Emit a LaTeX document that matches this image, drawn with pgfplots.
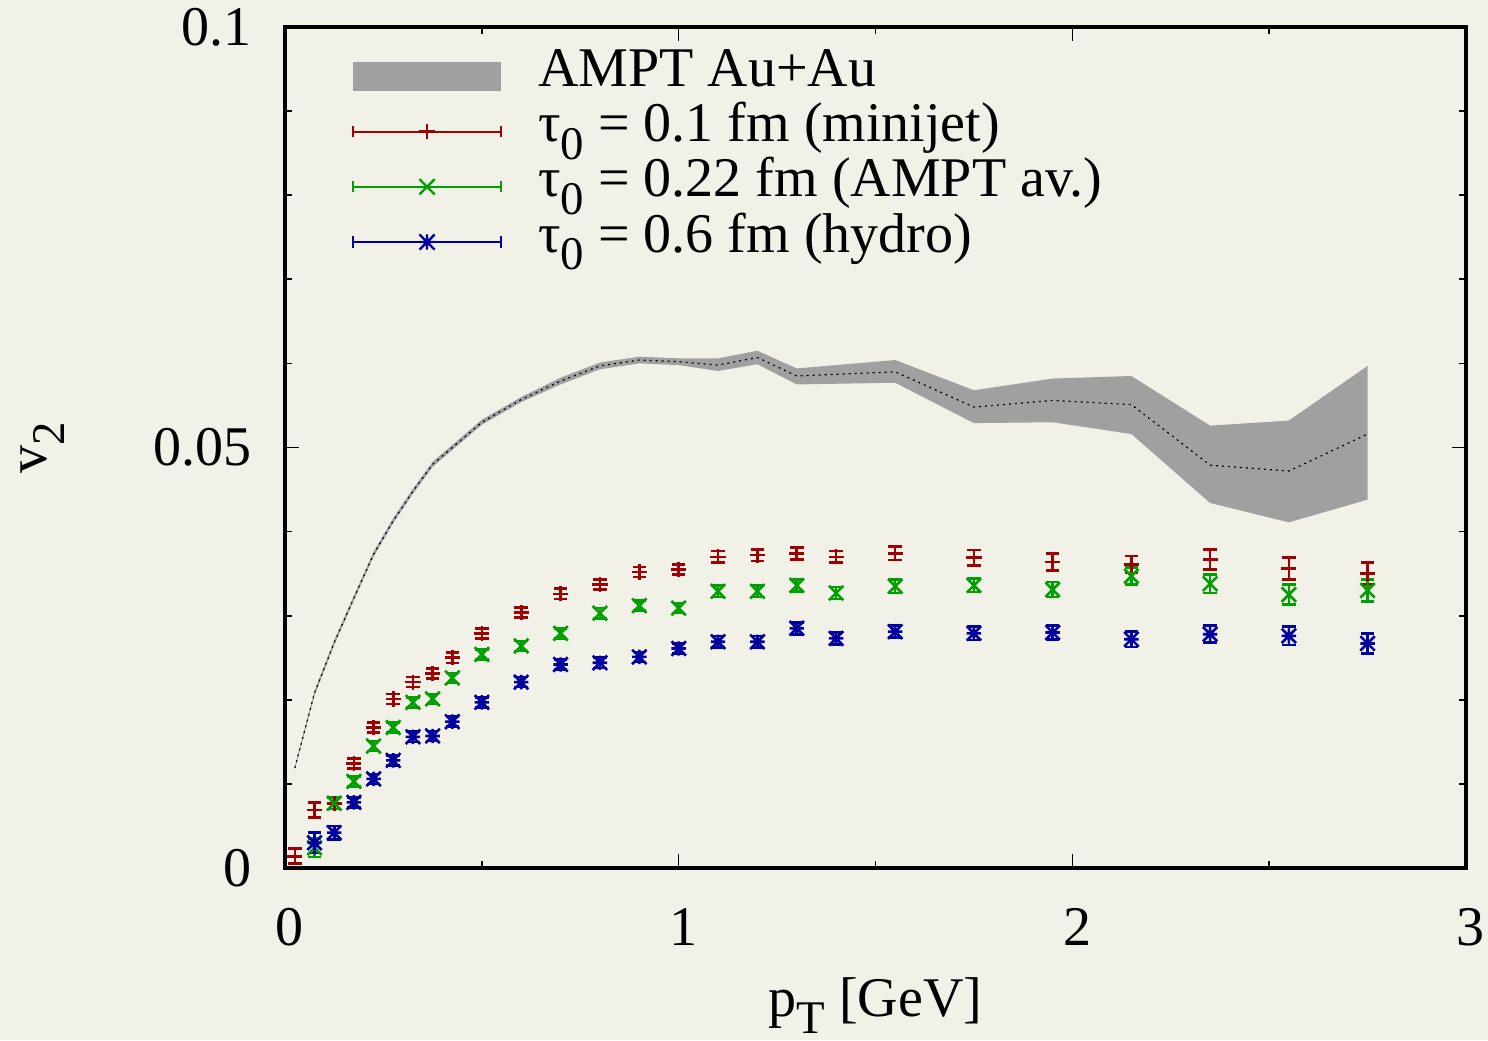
\documentclass[border=0pt]{standalone}
\usepackage{fontspec}
\setmainfont{Liberation Serif}
\usepackage{pgfplots}
\usepackage{pgfplotstable}
\pgfplotsset{compat=1.18}
\usepgfplotslibrary{fillbetween}

\definecolor{bg}{RGB}{242,241,231}
\definecolor{gpred}{RGB}{160,0,0}
\definecolor{gpgreen}{RGB}{0,160,0}
\definecolor{gpblue}{RGB}{0,0,160}
\definecolor{bandgray}{RGB}{160,160,160}

\pgfdeclareplotmark{gpstar}{%
 \pgfpathmoveto{\pgfqpoint{-\pgfplotmarksize}{0pt}}\pgfpathlineto{\pgfqpoint{\pgfplotmarksize}{0pt}}%
 \pgfpathmoveto{\pgfqpoint{0pt}{-\pgfplotmarksize}}\pgfpathlineto{\pgfqpoint{0pt}{\pgfplotmarksize}}%
 \pgfpathmoveto{\pgfqpoint{-\pgfplotmarksize}{-\pgfplotmarksize}}\pgfpathlineto{\pgfqpoint{\pgfplotmarksize}{\pgfplotmarksize}}%
 \pgfpathmoveto{\pgfqpoint{-\pgfplotmarksize}{\pgfplotmarksize}}\pgfpathlineto{\pgfqpoint{\pgfplotmarksize}{-\pgfplotmarksize}}%
 \pgfusepathqstroke}
\pgfdeclareplotmark{gpx}{%
 \pgfpathmoveto{\pgfqpoint{-\pgfplotmarksize}{-\pgfplotmarksize}}\pgfpathlineto{\pgfqpoint{\pgfplotmarksize}{\pgfplotmarksize}}%
 \pgfpathmoveto{\pgfqpoint{-\pgfplotmarksize}{\pgfplotmarksize}}\pgfpathlineto{\pgfqpoint{\pgfplotmarksize}{-\pgfplotmarksize}}%
 \pgfusepathqstroke}

\newcommand{\errleg}[2]{%
 \draw[#1, line width=0.55pt] (0pt,0pt) -- (37pt,0pt);
 \draw[#1, line width=0.55pt] (0pt,-1.4pt) -- (0pt,1.4pt);
 \draw[#1, line width=0.55pt] (37pt,-1.4pt) -- (37pt,1.4pt);
 \path[#1, line width=0.6pt, mark=#2, mark size=1.9pt] plot coordinates {(18.5pt,0pt)};
}
\newcommand{\sub}[1]{\raisebox{-0.32em}{\fontsize{11.7}{12}\selectfont #1}}

% AMPT Au+Au band: x, lower, upper, central
\pgfplotstableread{
x lo hi mid
0.025 0.0117 0.0121 0.0119
0.075 0.0205 0.0211 0.0208
0.125 0.0265 0.0271 0.0268
0.175 0.0318 0.0324 0.0321
0.225 0.0370 0.0376 0.0373
0.275 0.0410 0.0416 0.0413
0.325 0.0445 0.0451 0.0448
0.375 0.0477 0.0483 0.0480
0.5 0.0527 0.0533 0.0530
0.6 0.0554 0.0560 0.0557
0.7 0.0575 0.0583 0.0579
0.8 0.0593 0.0601 0.0597
0.9 0.0600 0.0608 0.0604
1.0 0.0598 0.0606 0.0602
1.1 0.0591 0.0606 0.0598
1.2 0.0599 0.0615 0.0607
1.3 0.0575 0.0594 0.0585
1.55 0.0577 0.0604 0.0590
1.75 0.0529 0.0568 0.0548
1.95 0.0530 0.0582 0.0556
2.15 0.0516 0.0585 0.0551
2.35 0.0434 0.0526 0.0479
2.55 0.0411 0.0532 0.0472
2.75 0.0438 0.0597 0.0516
}\bandtab

\pgfplotstableread{
x y e
0.025 0.0014 0.0009
0.075 0.0069 0.0009
0.125 0.0077 0.0007
0.175 0.0124 0.0006
0.225 0.0167 0.0006
0.275 0.0201 0.0006
0.325 0.0221 0.0006
0.375 0.0231 0.0006
0.425 0.0250 0.0006
0.5 0.0279 0.0006
0.6 0.0304 0.0006
0.7 0.0326 0.0006
0.8 0.0337 0.0006
0.9 0.0352 0.0006
1.0 0.0355 0.0006
1.1 0.0370 0.0007
1.2 0.0372 0.0007
1.3 0.0374 0.0007
1.4 0.0370 0.0007
1.55 0.0374 0.0008
1.75 0.0369 0.0009
1.95 0.0364 0.0010
2.15 0.0361 0.0010
2.35 0.0367 0.0012
2.55 0.0356 0.0013
2.75 0.0350 0.0013
}\redtab

\pgfplotstableread{
x y e
0.075 0.0024 0.0011
0.125 0.0077 0.0007
0.175 0.0103 0.0006
0.225 0.0145 0.0006
0.275 0.0167 0.0006
0.325 0.0197 0.0006
0.375 0.0201 0.0006
0.425 0.0226 0.0006
0.5 0.0254 0.0006
0.6 0.0264 0.0006
0.7 0.0279 0.0006
0.8 0.0303 0.0006
0.9 0.0312 0.0006
1.0 0.0309 0.0006
1.1 0.0329 0.0007
1.2 0.0329 0.0007
1.3 0.0336 0.0007
1.4 0.0327 0.0007
1.55 0.0335 0.0008
1.75 0.0336 0.0008
1.95 0.0331 0.0009
2.15 0.0347 0.0010
2.35 0.0338 0.0011
2.55 0.0325 0.0012
2.75 0.0330 0.0013
}\greentab

\pgfplotstableread{
x y e
0.075 0.0030 0.0012
0.125 0.0042 0.0008
0.175 0.0078 0.0006
0.225 0.0106 0.0006
0.275 0.0128 0.0006
0.325 0.0156 0.0006
0.375 0.0157 0.0006
0.425 0.0174 0.0006
0.5 0.0197 0.0006
0.6 0.0221 0.0006
0.7 0.0242 0.0006
0.8 0.0244 0.0006
0.9 0.0251 0.0006
1.0 0.0261 0.0006
1.1 0.0269 0.0007
1.2 0.0269 0.0007
1.3 0.0285 0.0007
1.4 0.0273 0.0007
1.55 0.0281 0.0007
1.75 0.0279 0.0008
1.95 0.0280 0.0008
2.15 0.0272 0.0009
2.35 0.0278 0.0010
2.55 0.0276 0.0011
2.75 0.0267 0.0012
}\bluetab

\begin{document}
\fontsize{14}{16.8}\selectfont
\begin{tikzpicture}
\begin{axis}[
  set layers, clip=false,
  at={(0pt,0pt)}, anchor=south west,
  width=295.25pt, height=210.25pt, scale only axis,
  xmin=0, xmax=3, ymin=0, ymax=0.1,
  xtick={0,1,2,3}, minor xtick={0.5,1.5,2.5},
  ytick={0,0.05,0.1},
  minor ytick={0.01,0.02,0.03,0.04,0.06,0.07,0.08,0.09},
  tick align=inside,
  major tick length=3.6pt, minor tick length=1.8pt,
  every tick/.style={black, line width=0.4pt},
  axis line style={line width=0.8pt},
  scaled y ticks=false,
  /pgf/number format/assume math mode=true,
  yticklabel style={/pgf/number format/fixed, /pgf/number format/precision=2, xshift=-3.5pt},
  xticklabel style={yshift=-5.2pt, xshift=1.2pt},
  xlabel={p\sub{T} [GeV]},
  ylabel={v\sub{2}},
  xlabel style={at={(axis description cs:0.5,-0.176)}, anchor=base},
  ylabel style={at={(axis description cs:-0.205,0.5)}, anchor=center},
  legend style={at={(axis description cs:0.056,0.975)}, anchor=north west,
    draw=none, fill=none, inner sep=0pt, row sep=0pt,
    nodes={text height=9.4pt, text depth=4.4pt, inner sep=0pt}},
  legend cell align=left,
]
\begin{pgfonlayer}{axis background}
\fill[bg] (rel axis cs:-0.2413,-0.2045) rectangle (rel axis cs:1.0186,1.0321);
\end{pgfonlayer}
\addplot[name path=hi, draw=none, forget plot] table[x=x, y=hi]{\bandtab};
\addplot[name path=lo, draw=none, forget plot] table[x=x, y=lo]{\bandtab};
\addplot[fill=bandgray, draw=none,
  legend image code/.code={\fill[bandgray] (0pt,-3.6pt) rectangle (37pt,3.6pt); \path (46pt,0pt);}]
  fill between[of=hi and lo];
\addlegendentry{AMPT Au+Au}
\addplot[black, line width=0.3pt, dash pattern=on 0.5pt off 1pt, forget plot]
  table[x=x, y=mid]{\bandtab};

\addplot[gpred, only marks, mark=+, mark size=1.9pt, line width=0.65pt,
  error bars/.cd, y dir=both, y explicit,
  error bar style={line width=0.65pt},
  error mark options={rotate=90, mark size=1.7pt, line width=0.65pt},
  /pgfplots/legend image code/.code={\errleg{gpred}{+}\path (46pt,0pt);}]
  table[x=x, y=y, y error=e]{\redtab};
\addlegendentry{τ\sub{0} = 0.1 fm (minijet)}

\addplot[gpgreen, only marks, mark=gpx, mark size=1.8pt, line width=0.65pt,
  error bars/.cd, y dir=both, y explicit,
  error bar style={line width=0.65pt},
  error mark options={rotate=90, mark size=1.7pt, line width=0.65pt},
  /pgfplots/legend image code/.code={\errleg{gpgreen}{gpx}\path (46pt,0pt);}]
  table[x=x, y=y, y error=e]{\greentab};
\addlegendentry{τ\sub{0} = 0.22 fm (AMPT av.)}

\addplot[gpblue, only marks, mark=gpstar, mark size=1.8pt, line width=0.65pt,
  error bars/.cd, y dir=both, y explicit,
  error bar style={line width=0.65pt},
  error mark options={rotate=90, mark size=1.7pt, line width=0.65pt},
  /pgfplots/legend image code/.code={\errleg{gpblue}{gpstar}\path (46pt,0pt);}]
  table[x=x, y=y, y error=e]{\bluetab};
\addlegendentry{τ\sub{0} = 0.6 fm (hydro)}
\end{axis}
\pgfresetboundingbox
\path[use as bounding box] (-71.25pt,-43pt) rectangle (300.75pt,217pt);
\end{tikzpicture}
\end{document}
